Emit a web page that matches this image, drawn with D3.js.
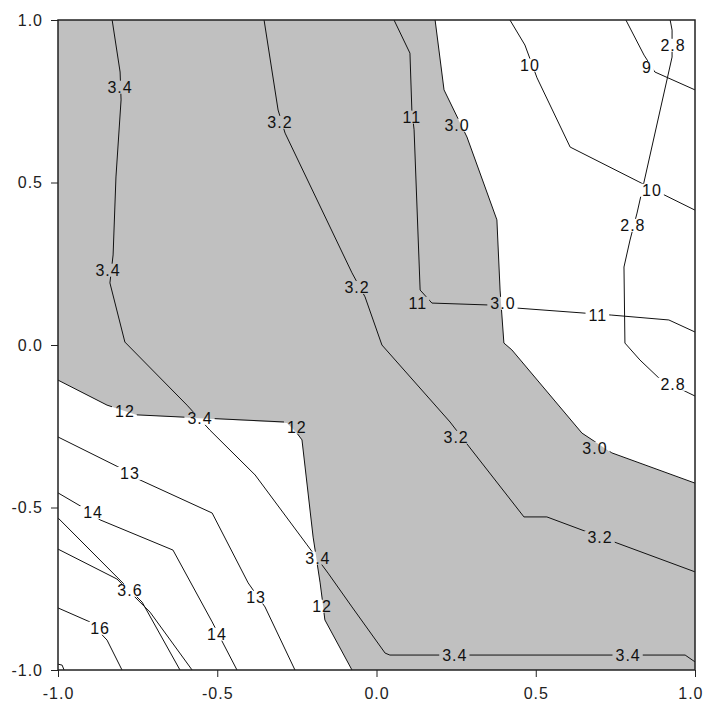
<!DOCTYPE html>
<html>
<head>
<meta charset="utf-8">
<script src="https://cdn.jsdelivr.net/npm/d3@7"></script>
<style>
  body { margin: 0; background: #fff; }
  svg text { font-family: "Liberation Sans", Arial, sans-serif; }
</style>
</head>
<body>
<div id="chart"></div>
<script>
// axis ticks
const xTicks = [-1, -0.5, 0, 0.5, 1];
const yTicks = [-1, -0.5, 0, 0.5, 1];

// grey shaded band (between the 3.0 contour and the 12 contour)
const shadedRegion = [
  [-1, 1], [0.184, 1], [0.212, 0.785], [0.284, 0.640], [0.378, 0.385], [0.388, 0.169],
  [0.400, 0.006], [0.425, -0.015], [0.645, -0.271], [0.739, -0.332], [1, -0.425],
  [1, -1], [-0.077, -1], [-0.162, -0.846], [-0.177, -0.732], [-0.199, -0.591],
  [-0.234, -0.292], [-0.250, -0.271], [-0.281, -0.240], [-0.752, -0.215],
  [-0.846, -0.185], [-1, -0.108]
];

// contour lines
const line34 = [
  [-0.830, 1], [-0.805, 0.840], [-0.802, 0.754], [-0.818, 0.517], [-0.827, 0.277],
  [-0.837, 0.191], [-0.790, 0.009], [-0.595, -0.185], [-0.523, -0.262], [-0.381, -0.400],
  [-0.218, -0.615], [-0.152, -0.702], [-0.077, -0.806], [0.027, -0.948], [0.042, -0.954],
  [0.969, -0.954], [1, -0.975]
];
const line32 = [
  [-0.353, 1], [-0.309, 0.723], [-0.287, 0.652], [-0.077, 0.222], [-0.036, 0.148],
  [0.017, 0], [0.231, -0.237], [0.294, -0.317], [0.463, -0.529], [0.535, -0.529],
  [0.661, -0.575], [0.746, -0.606], [1, -0.698]
];
const line30 = [
  [0.184, 1], [0.212, 0.785], [0.284, 0.640], [0.378, 0.385], [0.388, 0.169],
  [0.400, 0.006], [0.425, -0.015], [0.645, -0.271], [0.739, -0.332], [1, -0.425]
];
const line28 = [
  [0.922, 1], [0.928, 0.969], [0.928, 0.886], [0.818, 0.406], [0.796, 0.323],
  [0.777, 0.240], [0.780, 0.006], [0.827, -0.046], [0.887, -0.102], [0.981, -0.148],
  [1, -0.157]
];
const line11 = [
  [0.055, 1], [0.105, 0.898], [0.111, 0.723], [0.118, 0.662], [0.137, 0.169],
  [0.174, 0.129], [0.356, 0.123], [0.400, 0.120], [0.435, 0.114], [0.655, 0.098],
  [0.739, 0.092], [0.918, 0.077], [1, 0.040]
];
const line10 = [
  [0.419, 1], [0.466, 0.923], [0.504, 0.822], [0.608, 0.609], [0.824, 0.502],
  [0.903, 0.462], [1, 0.415]
];
const line9 = [[0.783, 1], [0.840, 0.892], [0.874, 0.840], [1, 0.785]];
const line12 = [
  [-1, -0.108], [-0.846, -0.185], [-0.752, -0.215], [-0.287, -0.237], [-0.250, -0.271],
  [-0.234, -0.292], [-0.199, -0.591], [-0.177, -0.732], [-0.162, -0.846], [-0.077, -1]
];
const line13 = [
  [-1, -0.283], [-0.805, -0.378], [-0.743, -0.415], [-0.516, -0.517], [-0.403, -0.732],
  [-0.350, -0.806], [-0.256, -1]
];
const line14 = [
  [-1, -0.455], [-0.925, -0.498], [-0.868, -0.538], [-0.639, -0.631], [-0.516, -0.852],
  [-0.482, -0.917], [-0.438, -1]
];
const line36a = [[-1, -0.532], [-0.815, -0.714], [-0.736, -0.791], [-0.617, -1]];
const line36b = [[-1, -0.628], [-0.815, -0.720], [-0.711, -0.822], [-0.579, -1]];
const line16 = [[-1, -0.809], [-0.900, -0.852], [-0.846, -0.908], [-0.799, -1]];
const lineCorner = [[-1, -0.982], [-0.987, -0.985], [-0.981, -1]];

const contourLines = [line34, line32, line30, line28, line11, line10, line9,
  line12, line13, line14, line36a, line36b, line16, lineCorner];

// contour labels: text, x, y
const contourLabels = [
  ['3.4', -0.805, 0.794], ['3.4', -0.843, 0.231], ['3.2', -0.303, 0.686],
  ['3.2', -0.061, 0.178], ['11', 0.111, 0.702], ['3.0', 0.253, 0.677],
  ['10', 0.482, 0.862], ['9', 0.849, 0.855], ['2.8', 0.931, 0.923],
  ['10', 0.865, 0.477], ['2.8', 0.805, 0.369], ['11', 0.130, 0.129],
  ['3.0', 0.397, 0.129], ['11', 0.695, 0.092], ['2.8', 0.931, -0.120],
  ['12', -0.790, -0.203], ['3.4', -0.554, -0.225], ['12', -0.250, -0.252],
  ['3.2', 0.250, -0.283], ['3.0', 0.686, -0.317], ['13', -0.774, -0.394],
  ['14', -0.890, -0.514], ['3.2', 0.702, -0.591], ['3.4', -0.184, -0.655],
  ['3.6', -0.774, -0.754], ['13', -0.378, -0.775], ['12', -0.171, -0.803],
  ['16', -0.868, -0.871], ['14', -0.501, -0.889], ['3.4', 0.246, -0.954],
  ['3.4', 0.790, -0.954]
];

const width = 704, height = 709;
const margin = { top: 20, right: 9, bottom: 39, left: 58 };
const fontSize = 16;

const x = d3.scaleLinear().domain([-1, 1]).range([margin.left, width - margin.right]);
const y = d3.scaleLinear().domain([-1, 1]).range([height - margin.bottom, margin.top]);

const svg = d3.select('#chart').append('svg')
  .attr('width', width)
  .attr('height', height);

const defs = svg.append('defs');
defs.append('clipPath')
  .attr('id', 'plotClip')
  .append('rect')
  .attr('x', x(-1)).attr('y', y(1))
  .attr('width', x(1) - x(-1)).attr('height', y(-1) - y(1));

const line = d3.line().x(d => x(d[0])).y(d => y(d[1]));

const plot = svg.append('g').attr('clip-path', 'url(#plotClip)');

plot.append('rect')
  .attr('x', x(-1)).attr('y', y(1))
  .attr('width', x(1) - x(-1)).attr('height', y(-1) - y(1))
  .attr('fill', '#fff');

plot.append('path')
  .attr('d', line(shadedRegion) + 'Z')
  .attr('fill', '#c0c0c0')
  .attr('stroke', 'none');

const lineG = plot.append('g').attr('mask', 'url(#labelGaps)');
const labelG = plot.append('g');

// labels first, so their boxes can cut gaps into the lines
const labels = labelG.selectAll('text')
  .data(contourLabels)
  .join('text')
  .attr('x', d => x(d[1]))
  .attr('y', d => y(d[2]))
  .attr('text-anchor', 'middle')
  .attr('dy', '0.36em')
  .style('font-size', fontSize + 'px')
  .style('letter-spacing', '1px')
  .attr('fill', '#111')
  .text(d => d[0]);

const mask = defs.append('mask')
  .attr('id', 'labelGaps')
  .attr('maskUnits', 'userSpaceOnUse')
  .attr('x', 0).attr('y', 0).attr('width', width).attr('height', height);
mask.append('rect')
  .attr('width', width).attr('height', height)
  .attr('fill', '#fff');
labels.each(function () {
  const b = this.getBBox();
  mask.append('rect')
    .attr('x', b.x - 3)
    .attr('y', b.y + 2)
    .attr('width', b.width + 5)
    .attr('height', b.height - 4)
    .attr('fill', '#000');
});

lineG.selectAll('.contour')
  .data(contourLines)
  .join('path')
  .attr('class', 'contour')
  .attr('d', line)
  .attr('fill', 'none')
  .attr('stroke', '#111')
  .attr('stroke-width', 1);

const fmt = d => d.toFixed(1);

const yAxis = svg.append('g')
  .attr('transform', `translate(${margin.left},0)`)
  .call(d3.axisLeft(y).tickValues(yTicks).tickFormat(fmt).tickSize(7).tickPadding(8));

const xAxis = svg.append('g')
  .attr('transform', `translate(0,${height - margin.bottom})`)
  .call(d3.axisBottom(x).tickValues(xTicks).tickFormat(fmt).tickSize(7).tickPadding(11));

[xAxis, yAxis].forEach(a => {
  a.select('.domain').remove();
  a.selectAll('.tick line').attr('stroke', '#222');
  a.selectAll('.tick text')
    .style('font-size', fontSize + 'px')
    .style('letter-spacing', '1px')
    .style('font-family', '"Liberation Sans", Arial, sans-serif')
    .attr('fill', '#222');
});

// keep the last x label inside the window
xAxis.selectAll('.tick text')
  .filter(d => d === 1)
  .attr('text-anchor', 'end')
  .attr('x', width - 1 - x(1));

// plot frame
svg.append('rect')
  .attr('x', x(-1)).attr('y', y(1))
  .attr('width', x(1) - x(-1)).attr('height', y(-1) - y(1))
  .attr('fill', 'none')
  .attr('stroke', '#222')
  .attr('stroke-width', 1.5);
</script>
</body>
</html>
